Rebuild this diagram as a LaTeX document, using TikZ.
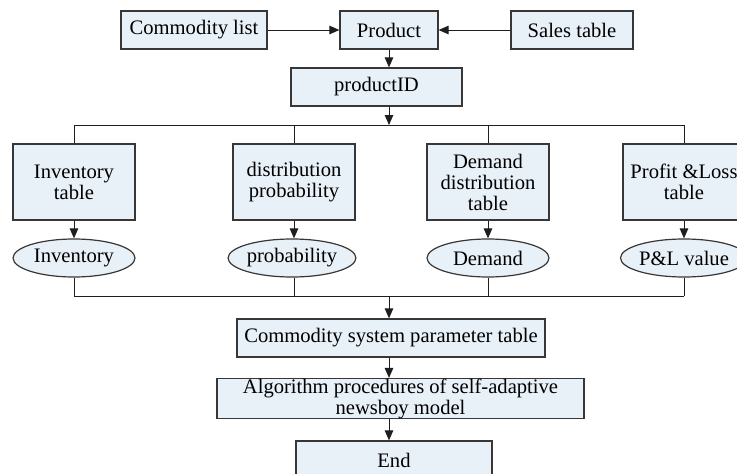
\documentclass[tikz,border=0pt]{standalone}
\usepackage{fontspec}
\setmainfont{Liberation Serif}
\usetikzlibrary{shapes.geometric,arrows.meta}
\definecolor{boxfill}{RGB}{232,240,248}
\definecolor{boxline}{RGB}{55,55,55}
\definecolor{wire}{RGB}{30,30,30}
\begin{document}
\begin{tikzpicture}[x=1pt,y=-1pt,
  box/.style={draw=boxline,fill=boxfill,line width=1.2pt,inner sep=0pt,align=center,
    font=\fontsize{20.6}{21}\selectfont},
  oval/.style={box,ellipse,minimum width=122pt,minimum height=38pt},
  col/.style={box,minimum width=122pt,minimum height=76pt},
  arr/.style={draw=wire,line width=1pt,-{Triangle[length=10pt,width=8.5pt]}},
  ln/.style={draw=wire,line width=1pt}]
\useasboundingbox (0,0) rectangle (737,474);
% top row
\node[box,minimum width=146pt,minimum height=38pt] (clist) at (194,30) {Commodity list};
\node[box,minimum width=98pt,minimum height=38pt] (prod) at (389,30) {Product};
\node[box,minimum width=122pt,minimum height=38pt] (sales) at (572,30) {Sales table};
\node[box,minimum width=171pt,minimum height=38pt] (pid) at (376.5,87) {productID};
% columns
\node[col] (inv) at (74,182) {Inventory\\table};
\node[col] (dist) at (294,182) {distribution\\probability};
\node[col] (dem) at (488,182) {Demand\\distribution\\table};
\node[col] (pl) at (684,182) {Profit \&Loss\\table};
\node[oval] (einv) at (74,258) {Inventory};
\node[oval] (eprob) at (292,258) {probability};
\node[oval] (edem) at (488,258) {Demand};
\node[oval] (epl) at (684,258) {P\&L value};
% bottom
\node[box,minimum width=308pt,minimum height=38pt] (param) at (391,338) {Commodity system parameter table};
\node[box,minimum width=367pt,minimum height=39pt] (algo) at (400.5,398.5) {Algorithm procedures of self-adaptive\\newsboy model};
\node[box,minimum width=196pt,minimum height=38pt] (endn) at (394,460) {End};
% coordinates of the bars
\coordinate (top) at (389,125);
\coordinate (bot) at (389,296);
% connectors
\draw[arr] (clist.east) -- (prod.west);
\draw[arr] (sales.west) -- (prod.east);
\draw[arr] (prod.south) -- (prod.south |- pid.north);
\draw[arr] (prod.south |- pid.south) -- (top);
\draw[ln] (inv.north |- top) -- (pl.north |- top);
\foreach \n in {inv,dist,dem,pl} \draw[ln] (\n.north |- top) -- (\n.north);
\draw[arr] (inv.south) -- (einv.north);
\draw[arr] (dist.south) -- (dist.south |- eprob.north);
\draw[arr] (dem.south) -- (edem.north);
\draw[arr] (pl.south) -- (epl.north);
\foreach \n/\e in {inv/einv,dist/eprob,dem/edem,pl/epl} \draw[ln] (\n.south |- \e.south) -- (\n.south |- bot);
\draw[ln] (inv.south |- bot) -- (pl.south |- bot);
\draw[arr] (bot) -- (bot |- param.north);
\draw[arr] (bot |- param.south) -- (bot |- algo.north);
\draw[arr] (bot |- algo.south) -- (bot |- endn.north);
\end{tikzpicture}
\end{document}
